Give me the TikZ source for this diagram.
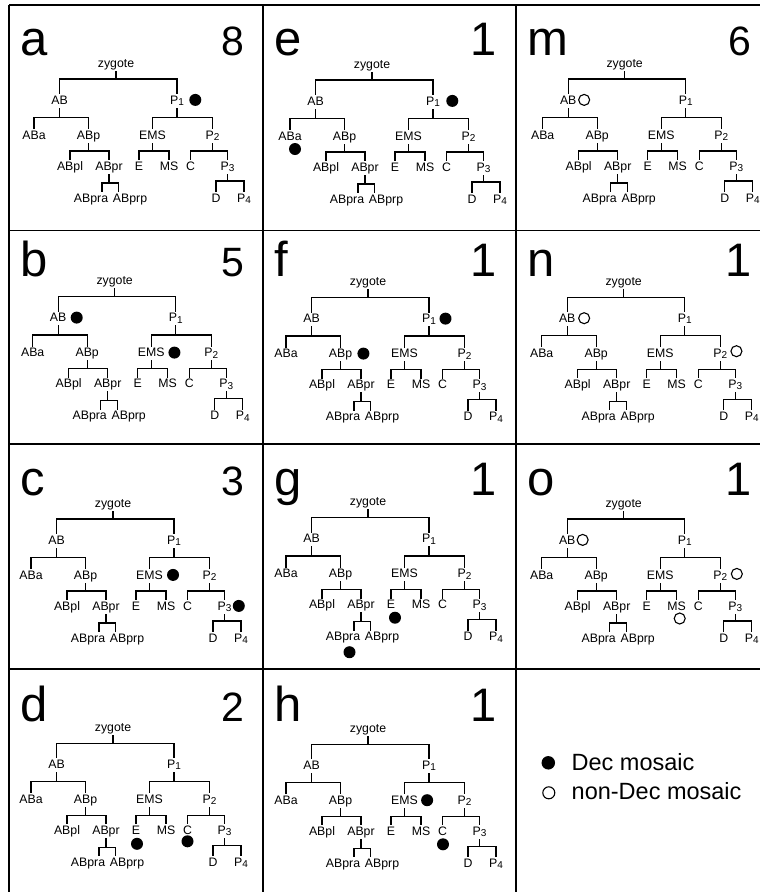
\documentclass[tikz,border=0pt]{standalone}
\usepackage{fontspec}
\setmainfont{Liberation Sans}
\usetikzlibrary{positioning}

% lowered, smaller digit used in P1 ... P4
\newcommand\psub[1]{\raisebox{-1.5pt}{\fontsize{10}{10}\selectfont #1}}

\tikzset{
  cell/.style={font=\fontsize{12.3}{12.3}\selectfont, inner xsep=0.5pt, inner ysep=1.5pt,
               text height=8.7pt, text depth=2.5pt, anchor=base},
  treeline/.style={line width=1.05pt, line cap=rect},
  frameline/.style={line width=1.4pt},
  panelletter/.style={font=\fontsize{49}{49}\selectfont, inner sep=0pt, anchor=base west},
  panelcount/.style={font=\fontsize{41}{41}\selectfont, inner sep=0pt, anchor=base east},
  panelone/.style={font=\fontsize{47}{47}\selectfont, inner sep=0pt, anchor=base east},
  decdot/.style={circle, fill=black, inner sep=0pt, minimum size=12pt},
  nondot/.style={circle, draw=black, line width=1.1pt, fill=white, inner sep=0pt, minimum size=11pt},
  legtext/.style={font=\fontsize{23.5}{23.5}\selectfont, inner sep=0pt, anchor=base west}
}

% one lineage tree: #1 = name prefix, #2 = left end of the zygote bar
\newcommand\lineage[2]{%
\begin{scope}[shift={(#2)}]
  \node[cell] (#1zyg)   at (57,-12)  {zygote};
  \node[cell] (#1AB)    at (0.5,25)  {AB};
  \node[cell] (#1P1)    at (118,25)  {P\psub{1}};
  \node[cell] (#1ABa)   at (-25,60)  {ABa};
  \node[cell] (#1ABp)   at (29.5,60) {ABp};
  \node[cell] (#1EMS)   at (93.5,60) {EMS};
  \node[cell] (#1P2)    at (153.5,60) {P\psub{2}};
  \node[cell] (#1ABpl)  at (11,91)   {ABpl};
  \node[cell] (#1ABpr)  at (50,91)   {ABpr};
  \node[cell] (#1E)     at (80,91)   {E};
  \node[cell] (#1MS)    at (110,91)  {MS};
  \node[cell] (#1C)     at (131.5,91) {C};
  \node[cell] (#1P3)    at (168.5,91) {P\psub{3}};
  \node[cell] (#1ABpra) at (32,123)  {ABpra};
  \node[cell] (#1ABprp) at (71,123)  {ABprp};
  \node[cell] (#1D)     at (157,123) {D};
  \node[cell] (#1P4)    at (185,123) {P\psub{4}};
  % junctions of the division bars
  \coordinate (#1zj)   at (57,0);
  \coordinate (#1abj)  at (0.5,38.3);
  \coordinate (#1p1j)  at (118,38.3);
  \coordinate (#1abpj) at (29.5,72);
  \coordinate (#1emsj) at (93.5,72);
  \coordinate (#1p2j)  at (153.5,72);
  \coordinate (#1prj)  at (50,104);
  \coordinate (#1prL)  at (43,104);
  \coordinate (#1prR)  at (59.5,104);
  \coordinate (#1p3j)  at (168.5,102);
  % divisions
  \draw[treeline] (#1zyg.south) -- (#1zj);
  \draw[treeline] (#1AB.north) |- (#1zj) -| (#1P1.north);
  \draw[treeline] (#1AB.south) -- (#1abj);
  \draw[treeline] (#1ABa.north) |- (#1abj) -| (#1ABp.north);
  \draw[treeline] (#1P1.south) -- (#1p1j);
  \draw[treeline] (#1EMS.north) |- (#1p1j) -| (#1P2.north);
  \draw[treeline] (#1ABp.south) -- (#1abpj);
  \draw[treeline] (#1ABpl.north) |- (#1abpj) -| (#1ABpr.north);
  \draw[treeline] (#1EMS.south) -- (#1emsj);
  \draw[treeline] (#1E.north) |- (#1emsj) -| (#1MS.north);
  \draw[treeline] (#1P2.south) -- (#1p2j);
  \draw[treeline] (#1C.north) |- (#1p2j) -| (#1P3.north);
  \draw[treeline] (#1ABpr.south) -- (#1prj);
  \draw[treeline] (#1ABpra.north -| #1prL) |- (#1prj) -| (#1ABprp.north -| #1prR);
  \draw[treeline] (#1P3.south) -- (#1p3j);
  \draw[treeline] (#1D.north) |- (#1p3j) -| (#1P4.north);
\end{scope}}

\begin{document}
\begin{tikzpicture}[x=1pt,y=-1pt]
  \fill[white] (0,0) rectangle (760,892);
  \useasboundingbox (0,0) rectangle (760,892);

  % panel grid
  \draw[frameline] (9,5) -- (760,5);
  \draw[frameline] (9,230.5) -- (760,230.5);
  \draw[frameline] (9,444) -- (760,444);
  \draw[frameline] (9,669) -- (760,669);
  \draw[frameline] (9,5) -- (9,892);
  \draw[frameline] (263,5) -- (263,892);
  \draw[frameline] (516,5) -- (516,892);

  % panel letters and counts
  \node[panelletter] (la) at (20.5,55) {a};
  \node[panelcount]  (na) at (245,55) {8};
  \node[panelletter] (lb) at (20.5,276) {b};
  \node[panelcount]  (nb) at (245,276) {5};
  \node[panelletter] (lc) at (20.5,495.5) {c};
  \node[panelcount]  (nc) at (245,495.5) {3};
  \node[panelletter] (ld) at (20.5,721) {d};
  \node[panelcount]  (nd) at (245,721) {2};
  \node[panelletter] (le) at (274.5,55) {e};
  \node[panelone]    (ne) at (497,55) {1};
  \node[panelletter] (lf) at (274.5,276) {f};
  \node[panelone]    (nf) at (497,276) {1};
  \node[panelletter] (lg) at (274.5,495.5) {g};
  \node[panelone]    (ng) at (497,495.5) {1};
  \node[panelletter] (lh) at (274.5,721) {h};
  \node[panelone]    (nh) at (497,721) {1};
  \node[panelletter] (lm) at (527.5,55) {m};
  \node[panelcount]  (nm) at (751.5,55) {6};
  \node[panelletter] (ln) at (527.5,276) {n};
  \node[panelone]    (nn) at (751.5,276) {1};
  \node[panelletter] (lo) at (527.5,495.5) {o};
  \node[panelone]    (no) at (751.5,495.5) {1};

  % lineage trees
  \lineage{a}{59,79}
  \lineage{b}{57.7,296.7}
  \lineage{c}{56,519}
  \lineage{d}{56,743.3}
  \lineage{e}{315,80}
  \lineage{f}{311,297.7}
  \lineage{g}{311,517.7}
  \lineage{h}{311,744.3}
  \lineage{m}{567.7,79}
  \lineage{n}{566.7,297.3}
  \lineage{o}{566.7,519}

  % mosaic marks
  \node[decdot, right=4.5pt of aP1, yshift=1pt] (aP1m) {};
  \node[decdot, right=3.4pt of bAB, yshift=1pt] (bABm) {};
  \node[decdot, right=3pt of bEMS, yshift=1pt] (bEMSm) {};
  \node[decdot, right=3.3pt of cEMS, yshift=1pt] (cEMSm) {};
  \node[decdot, right=0.5pt of cP3, yshift=1pt] (cP3m) {};
  \node[decdot] (dEm) at ([xshift=1pt, yshift=-9.5pt]dE.base) {};
  \node[decdot] (dCm) at ([yshift=-7pt]dC.base) {};
  \node[decdot, right=5.5pt of eP1, yshift=1pt] (eP1m) {};
  \node[decdot] (eABam) at ([xshift=5pt, yshift=-9pt]eABa.base) {};
  \node[decdot, right=2.7pt of fP1, yshift=1pt] (fP1m) {};
  \node[decdot, right=4.4pt of fABp, yshift=1pt] (fABpm) {};
  \node[decdot] (gEm) at ([xshift=4pt, yshift=-9pt]gE.base) {};
  \node[decdot] (gABpram) at ([xshift=6.5pt, yshift=-11.5pt]gABpra.base) {};
  \node[decdot, right=2.4pt of hEMS, yshift=1pt] (hEMSm) {};
  \node[decdot] (hCm) at ([xshift=0.5pt, yshift=-9pt]hC.base) {};
  \node[nondot, right=1pt of mAB, yshift=1pt] (mABm) {};
  \node[nondot, right=2pt of nAB, yshift=1pt] (nABm) {};
  \node[nondot, right=2.6pt of nP2, yshift=3pt] (nP2m) {};
  \node[nondot, right=0.5pt of oAB, yshift=1pt] (oABm) {};
  \node[nondot, right=3pt of oP2, yshift=2pt] (oP2m) {};
  \node[nondot] (oMSm) at ([xshift=3pt, yshift=-8.5pt]oMS.base) {};

  % legend
  \node[decdot, minimum size=13.5pt] (legdec) at (548.3,762.8) {};
  \node[legtext] (legdectext) at (571.5,770) {Dec mosaic};
  \node[nondot, minimum size=12pt] (legnon) at (548.8,792.8) {};
  \node[legtext] (legnontext) at (571.5,799) {non-Dec mosaic};
\end{tikzpicture}
\end{document}
